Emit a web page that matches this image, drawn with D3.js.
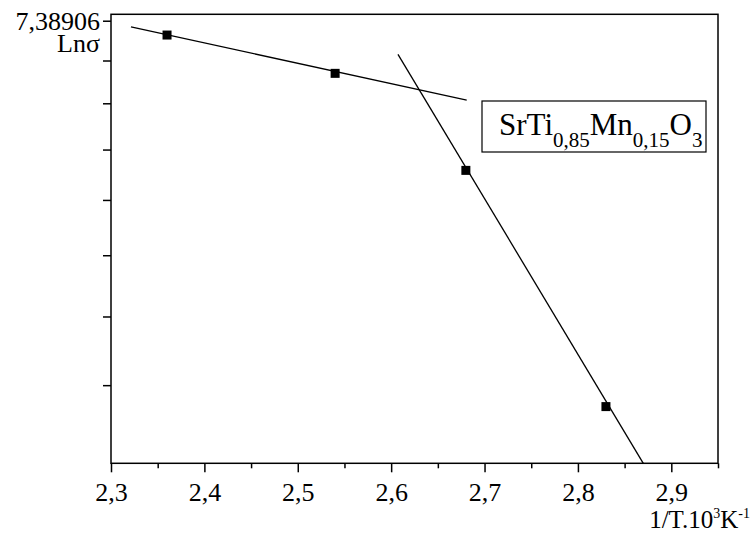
<!DOCTYPE html>
<html>
<head>
<meta charset="utf-8">
<script src="https://cdn.jsdelivr.net/npm/d3@7"></script>
<style>
    html, body { margin: 0; padding: 0; background: #fff; }
    svg { display: block; font-family: "Liberation Serif", "Times New Roman", serif; }
</style>
</head>
<body>
<svg id="chart" width="752" height="535"></svg>
<script>
// values (1/T in 10^3 K^-1, sigma on a ln axis)
const xDomain     = [2.3, 2.95]
const yDomain     = [3.38906, 7.4731]
const xTicks      = [2.3, 2.4, 2.5, 2.6, 2.7, 2.8, 2.9]
const xMinorTicks = [2.35, 2.45, 2.55, 2.65, 2.75, 2.85, 2.95]
const yTicks      = [7.38906, 6.88906, 6.38906, 5.88906, 5.38906, 4.88906, 4.38906, 3.88906]
const yLabelled   = [7.38906]

const pointsX = [2.36, 2.54, 2.68, 2.83]
const pointsY = [7.205, 6.735, 5.677, 3.745]

// the two fitted straight lines, as [x, sigma] end points
const fitLow  = [[2.3214, 7.308], [2.6809, 6.426]]
const fitHigh = [[2.6073, 6.964], [2.870, 3.38906]]

const width  = 752
const height = 535
const margin = { top: 14.3, right: 34, bottom: 71.7, left: 111 }
const serif  = '"Liberation Serif", "Times New Roman", serif'

const comma = v => String(v).replace('.', ',')

const svg = d3.select('#chart')

const x = d3.scaleLinear()
    .domain(xDomain)
    .range([margin.left, width - margin.right])

const y = d3.scaleLog()
    .domain(yDomain)
    .range([height - margin.bottom, margin.top])

const styleAxis = g => {
    g.attr('font-family', serif).attr('font-size', 26)
    g.select('.domain').remove()
    g.selectAll('line').attr('stroke', '#000').attr('stroke-width', 1.5)
    g.selectAll('text').attr('fill', '#000')
}

// x axis, major then minor ticks
svg.append('g')
    .attr('transform', `translate(0, ${height - margin.bottom})`)
    .call(d3.axisBottom(x).tickValues(xTicks).tickSize(9).tickPadding(10).tickFormat(comma))
    .call(styleAxis)

svg.append('g')
    .attr('transform', `translate(0, ${height - margin.bottom})`)
    .call(d3.axisBottom(x).tickValues(xMinorTicks).tickSize(5).tickFormat(''))
    .call(styleAxis)

// y axis, only the top tick has a label
svg.append('g')
    .attr('transform', `translate(${margin.left}, 0)`)
    .call(d3.axisLeft(y).tickValues(yTicks).tickSize(8).tickPadding(3)
        .tickFormat(d => yLabelled.includes(d) ? comma(d) : ''))
    .call(styleAxis)

// frame
svg.append('rect')
    .attr('x', margin.left)
    .attr('y', margin.top)
    .attr('width', width - margin.left - margin.right)
    .attr('height', height - margin.top - margin.bottom)
    .attr('fill', 'none')
    .attr('stroke', '#000')
    .attr('stroke-width', 1.5)

// axis titles
svg.append('text')
    .attr('x', margin.left - 11)
    .attr('y', 52)
    .attr('text-anchor', 'end')
    .style('font-size', '26px')
    .text('Lnσ')

const xTitle = svg.append('text')
    .attr('x', width - 2)
    .attr('y', 528)
    .attr('text-anchor', 'end')
    .style('font-size', '25px')

xTitle.append('tspan').text('1/T.10')
xTitle.append('tspan').attr('dy', -10).style('font-size', '14px').text('3')
xTitle.append('tspan').attr('dy', 10).text('K')
xTitle.append('tspan').attr('dy', -10).style('font-size', '14px').text('-1')

// fit lines
const line = d3.line()
    .x(d => x(d[0]))
    .y(d => y(d[1]))

svg.selectAll('.fit')
    .data([fitLow, fitHigh])
    .enter().append('path')
    .attr('class', 'fit')
    .attr('d', line)
    .attr('fill', 'none')
    .attr('stroke', '#000')
    .attr('stroke-width', 1.3)

// measured points
svg.selectAll('.pt')
    .data(d3.zip(pointsX, pointsY))
    .enter().append('rect')
    .attr('class', 'pt')
    .attr('x', d => x(d[0]) - 4.5)
    .attr('y', d => y(d[1]) - 4.5)
    .attr('width', 9)
    .attr('height', 9)
    .attr('fill', '#000')

// legend box with the formula
const legend = svg.append('g')

legend.append('rect')
    .attr('x', 482)
    .attr('y', 101)
    .attr('width', 224)
    .attr('height', 51)
    .attr('fill', '#fff')
    .attr('stroke', '#000')
    .attr('stroke-width', 1.2)

const formula = legend.append('text')
    .attr('x', 499)
    .attr('y', 135)
    .style('font-size', '31px')

const parts = [['SrTi', '0,85'], ['Mn', '0,15'], ['O', '3']]
parts.forEach(([el, sub], i) => {
    formula.append('tspan').attr('dy', i ? -12 : 0).text(el)
    formula.append('tspan').attr('dy', 12).style('font-size', '21px').text(sub)
})
</script>
</body>
</html>
